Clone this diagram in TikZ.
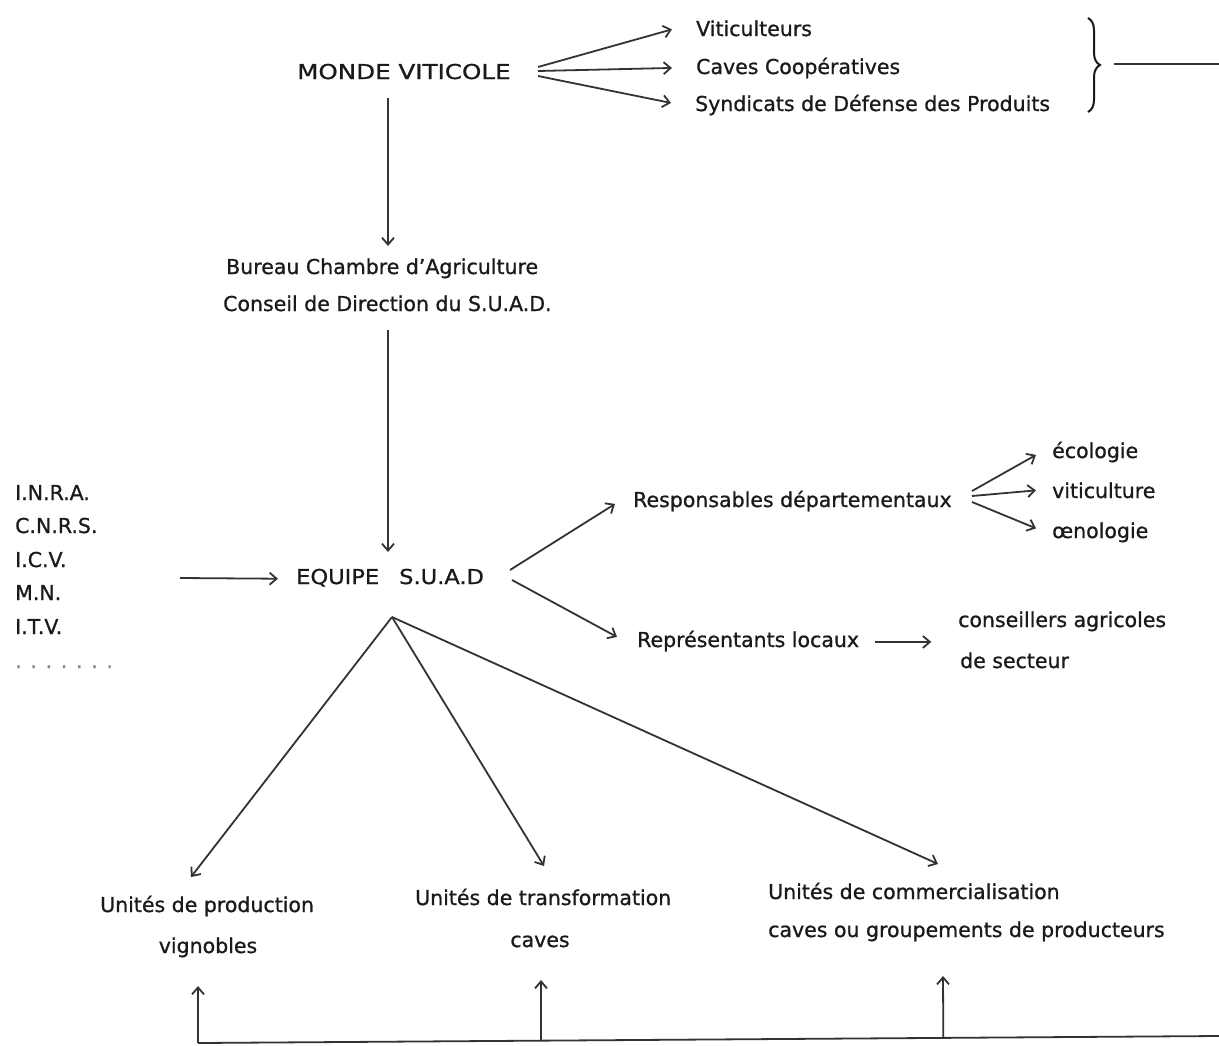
\documentclass[tikz,border=0pt]{standalone}
\usepackage{fontspec}
\setmainfont{DejaVu Sans}[BoldFont={DejaVu Sans}, BoldFeatures={FakeBold=0.9}]
\usetikzlibrary{arrows.meta,calc,decorations.pathreplacing}
\definecolor{ink}{HTML}{1A1A1A}
\definecolor{wire}{HTML}{333333}
\definecolor{dotgray}{HTML}{8A8A8A}
\newcommand{\wid}[2]{\scalebox{#1}[1]{#2}}
\begin{document}
\begin{tikzpicture}[x=1pt,y=-1pt,
  lbl/.style={inner sep=0pt, anchor=base west, text=ink, font=\fontsize{20.5}{24}\selectfont\bfseries},
  clbl/.style={lbl, anchor=base},
  wireline/.style={draw=wire, line width=1.8pt},
  arr/.style={wireline, -{Straight Barb[length=7pt,width=12pt,line width=1.8pt]}}]
\useasboundingbox (0,0) rectangle (1219,1045);
\fill[white] (0,0) rectangle (1219,1045);

% top block
\node[lbl] (mv) at (297,79) {\wid{1.2}{MONDE VITICOLE}};
\node[lbl] (vit) at (696,36) {Viticulteurs};
\node[lbl] (cav) at (696,74) {Caves Coopératives};
\node[lbl] (syn) at (695,111) {Syndicats de Défense des Produits};
\coordinate (mvA) at (538,67);
\coordinate (mvB) at (538,71);
\coordinate (mvC) at (538,76);
\draw[arr] (mvA) -- ([xshift=-24pt,yshift=-1pt]vit.west);
\draw[arr] (mvB) -- ([xshift=-24pt]cav.west);
\draw[arr] (mvC) -- ([xshift=-24pt,yshift=2pt]syn.west);

% brace and outgoing line
\coordinate (brT) at (1088,18);
\coordinate (brB) at (1088,112);
\draw[draw=ink, line width=2pt, decorate, decoration={brace, amplitude=12pt}] (brT) -- (brB);
\coordinate (brOut) at (1114,64);
\coordinate (edgeTop) at (1219,64);
\draw[wireline] (brOut) -- (edgeTop);

% bureau
\node[lbl] (bur) at (226,274) {Bureau Chambre d’Agriculture};
\node[lbl] (con) at (223,311) {Conseil de Direction du S.U.A.D.};
\coordinate (mvS) at (388,98);
\coordinate (burN) at (388,246);
\draw[arr] (mvS) -- (burN);

% equipe
\node[lbl] (eq) at (296,584) {\wid{1.1}{EQUIPE}\hspace{20pt}\wid{1.1}{S.U.A.D}};
\coordinate (conS) at (388,330);
\coordinate (eqN) at (388,552);
\draw[arr] (conS) -- (eqN);

% left list
\node[lbl] (inra) at (15,500) {I.N.R.A.};
\node[lbl] (cnrs) at (15,533) {C.N.R.S.};
\node[lbl] (icv) at (15,567) {I.C.V.};
\node[lbl] (mn) at (15,600) {M.N.};
\node[lbl] (itv) at (15,634) {I.T.V.};
\node[lbl, text=dotgray] (dots) at (15,668) {. . . . . . .};
\coordinate (listOut) at (180,578);
\draw[arr] (listOut) -- ([xshift=-18pt,yshift=-1pt]eq.west);

% responsables
\node[lbl] (resp) at (633,507) {Responsables départementaux};
\node[lbl] (eco) at (1052,458) {écologie};
\node[lbl] (vitc) at (1052,498) {viticulture};
\node[lbl] (oeno) at (1052,538) {œnologie};
\coordinate (eqR1) at (510,570);
\coordinate (eqR2) at (512,580);
\draw[arr] (eqR1) -- ([xshift=-18pt,yshift=-3pt]resp.west);
\coordinate (rA) at (972,491);
\coordinate (rB) at (972,496);
\coordinate (rC) at (972,502);
\draw[arr] (rA) -- ([xshift=-16pt,yshift=-3pt]eco.west);
\draw[arr] (rB) -- ([xshift=-16pt]vitc.west);
\draw[arr] (rC) -- ([xshift=-16pt,yshift=4pt]oeno.west);

% representants
\node[lbl] (rep) at (637,647) {Représentants locaux};
\node[lbl] (cons) at (958,627) {conseillers agricoles};
\node[lbl] (sect) at (960,668) {de secteur};
\draw[arr] (eqR2) -- ([xshift=-20pt,yshift=4pt]rep.west);
\draw[arr] ([xshift=16pt,yshift=-1pt]rep.east) -- ([xshift=72pt,yshift=-1pt]rep.east);

% bottom units
\node[lbl] (uprod) at (100,912) {Unités de production};
\node[clbl] (vign) at (208,953) {vignobles};
\node[lbl] (utr) at (415,905) {Unités de transformation};
\node[clbl] (cv) at (540,947) {caves};
\node[lbl] (ucom) at (768,899) {Unités de commercialisation};
\node[lbl] (grp) at (768,937) {caves ou groupements de producteurs};
\coordinate (apex) at (392,617);
\draw[arr] (apex) -- (191,877);
\draw[arr] (apex) -- (544,866);
\draw[arr] (apex) -- (938,864);

% bottom feedback line
\coordinate (bl) at (198,1043);
\coordinate (br) at (1219,1036);
\draw[wireline] (bl) -- (br);
\coordinate (b2) at ($(bl)!0.336!(br)$);
\coordinate (b3) at ($(bl)!0.730!(br)$);
\draw[arr] (bl) -- (198,986);
\draw[arr] (b2) -- (541,980);
\draw[arr] (b3) -- (943,976);
\end{tikzpicture}
\end{document}
